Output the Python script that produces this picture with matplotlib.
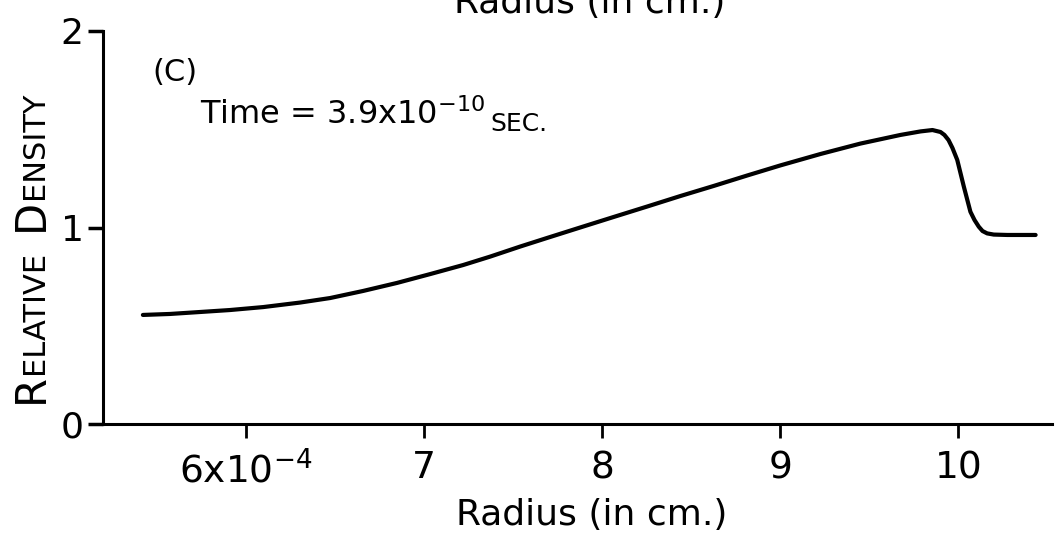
import numpy as np
import matplotlib
matplotlib.use('Agg')
import matplotlib.pyplot as plt

plt.rcParams['font.family'] = ['DejaVu Sans']
plt.rcParams['mathtext.default'] = 'regular'

# relative density profile, panel (c)
radius = [5.421, 5.573, 5.742, 5.910, 6.096, 6.303, 6.472, 6.657, 6.848,
          7.034, 7.219, 7.371, 7.539, 7.691, 7.876, 8.062, 8.253, 8.438,
          8.624, 8.815, 9.000, 9.225, 9.449, 9.674, 9.787, 9.854, 9.899,
          9.921, 9.944, 9.966, 9.993, 10.030, 10.067, 10.090, 10.114,
          10.135, 10.161, 10.198, 10.274, 10.433]
density = [0.555, 0.560, 0.570, 0.580, 0.595, 0.618, 0.641, 0.677, 0.718,
           0.763, 0.809, 0.852, 0.903, 0.947, 1.000, 1.053, 1.107, 1.160,
           1.211, 1.265, 1.316, 1.374, 1.427, 1.471, 1.489, 1.496, 1.486,
           1.471, 1.445, 1.405, 1.344, 1.208, 1.080, 1.038, 1.004,
           0.982, 0.970, 0.964, 0.962, 0.962]

xticks = [6, 7, 8, 9, 10]
xlabels = ['6x10$^{-4}$', '7', '8', '9', '10']
yticks = [0, 1, 2]
ylabels = ['0', '1', '2']

W, H = 1057, 535

def px(x, y):
    return x / W, 1 - y / H

fig = plt.figure(figsize=(W / 100, H / 100), dpi=100)
ax = fig.add_axes([103 / W, (H - 424) / H, (1052 - 103) / W, (424 - 31) / H])

ax.plot(radius, density, color='black', lw=3.0,
        solid_joinstyle='round', solid_capstyle='round')

ax.set_xlim(5.197, 10.525)
ax.set_ylim(0, 2)
ax.set_xticks(xticks)
ax.set_xticklabels(xlabels, fontsize=27)
ax.set_yticks(yticks)
ax.set_yticklabels(ylabels, fontsize=26)
ax.tick_params(axis='x', direction='out', length=10, width=2, pad=9)
ax.tick_params(axis='y', direction='out', length=11, width=2.5, pad=3)
for s in ['top', 'right']:
    ax.spines[s].set_visible(False)
for s in ['left', 'bottom']:
    ax.spines[s].set_linewidth(2.2)

fig.text(*px(592, 515), 'Radius (in cm.)', fontsize=26, ha='center', va='center')
fig.text(*px(590, 3), 'Radius (in cm.)', fontsize=26, ha='center', va='center')
fig.text(*px(175, 72), '(C)', fontsize=22, ha='center', va='center')

renderer = fig.canvas.get_renderer()

# time stamp, with the units in small capitals
t1 = fig.text(*px(200, 124), 'Time = 3.9x10$^{-10}$', fontsize=23,
              ha='left', va='baseline')
bb = t1.get_window_extent(renderer)
fig.text(bb.x1 / W + 5 / W, 1 - 131 / H, 'SEC.', fontsize=18,
         ha='left', va='baseline')

# rotated y label, big initials + small capitals
pieces = [('R', 30), ('ELATIVE', 22), ('  ', 22), ('D', 30), ('ENSITY', 22)]
ypos = 403
for s, size in pieces:
    t = fig.text(*px(43, ypos), s, fontsize=size, rotation=90,
                 rotation_mode='anchor', ha='left', va='baseline')
    ext = t.get_window_extent(renderer)
    ypos -= ext.height

fig.savefig('out.png', dpi=100)
